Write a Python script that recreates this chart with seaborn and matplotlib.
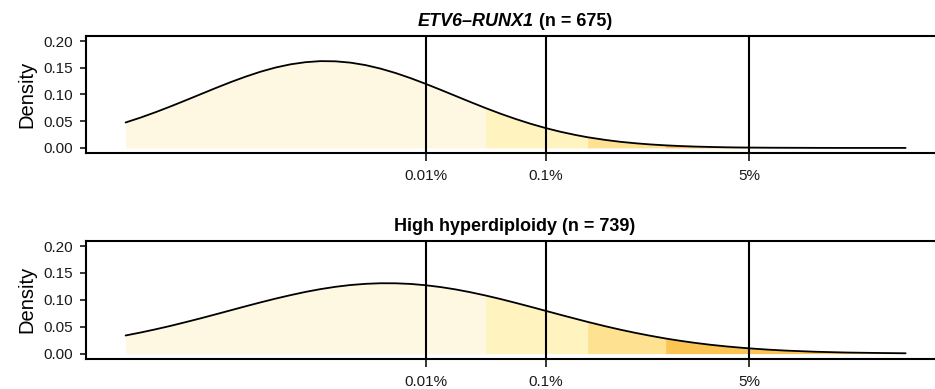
import numpy as np
import pandas as pd
import seaborn as sns
import matplotlib.pyplot as plt
from matplotlib.offsetbox import TextArea, HPacker, AnchoredOffsetbox

# log10(MRD) positions at which the density curves are drawn
log_mrd = [-6.5, -6.375, -6.25, -6.125, -6.0, -5.875, -5.75, -5.625, -5.5,
           -5.375, -5.25, -5.125, -5.0, -4.875, -4.75, -4.625, -4.5, -4.375,
           -4.25, -4.125, -4.0, -3.875, -3.75, -3.625, -3.5, -3.375, -3.25,
           -3.125, -3.0, -2.875, -2.75, -2.65, -2.5, -2.375, -2.25, -2.125,
           -2.0, -1.875, -1.75, -1.625, -1.5, -1.375, -1.25, -1.125, -1.0,
           -0.75, -0.5, -0.25, 0.0]

# density of log MRD for each subtype
density_etv6 = [0.0476, 0.0568, 0.0669, 0.0777, 0.0890, 0.1005, 0.1120, 0.1231,
                0.1334, 0.1427, 0.1505, 0.1565, 0.1605, 0.1625, 0.1621, 0.1596,
                0.1550, 0.1484, 0.1402, 0.1306, 0.1200, 0.1088, 0.0973, 0.0858,
                0.0746, 0.0640, 0.0542, 0.0452, 0.0372, 0.0302, 0.0242, 0.0200,
                0.0149, 0.0114, 0.0087, 0.0065, 0.0048, 0.0035, 0.0025, 0.0018,
                0.0012, 0.0008, 0.0006, 0.0004, 0.0003, 0.0001, 0.0, 0.0, 0.0]
density_hhd = [0.0337, 0.0392, 0.0452, 0.0516, 0.0585, 0.0656, 0.0730, 0.0805,
               0.0880, 0.0953, 0.1023, 0.1088, 0.1148, 0.1200, 0.1243, 0.1276,
               0.1298, 0.1309, 0.1308, 0.1296, 0.1272, 0.1238, 0.1194, 0.1141,
               0.1081, 0.1015, 0.0944, 0.0871, 0.0796, 0.0721, 0.0648, 0.0590,
               0.0508, 0.0444, 0.0385, 0.0331, 0.0281, 0.0237, 0.0198, 0.0164,
               0.0135, 0.0110, 0.0089, 0.0071, 0.0056, 0.0034, 0.0020, 0.0012,
               0.0006]

# shaded risk bands along log MRD
band_edges = [-6.5, -3.5, -2.65, -2.0, 0.0]
band_colors = ["#FEF8E3", "#FFF4C0", "#FEE191", "#FBC453"]

# MRD thresholds marked by vertical lines
threshold_values = [0.0001, 0.001, 0.05]
threshold_labels = ["0.01%", "0.1%", "5%"]

y_ticks = [0.0, 0.05, 0.10, 0.15, 0.20]

titles_italic = ["ETV6\u2013RUNX1", ""]
titles_plain = [" (n = 675)", "High hyperdiploidy (n = 739)"]

sns.set_style("ticks")
plt.rcParams["font.family"] = ["Liberation Sans", "DejaVu Sans"]
plt.rcParams["text.color"] = "black"
plt.rcParams["axes.labelcolor"] = "black"

fig = plt.figure(figsize=(9.35, 3.89), dpi=100)
W, H = 935.0, 389.0
ax_left, ax_right = 86.0, 944.0
panel_boxes = [(36.0, 153.0), (241.0, 358.7)]
xlim = (-6.83, 0.32)
ylim = (-0.0095, 0.2095)

frames = [pd.DataFrame({"log_mrd": log_mrd, "density": d})
          for d in (density_etv6, density_hhd)]

for i, (df, (top, bottom)) in enumerate(zip(frames, panel_boxes)):
    ax = fig.add_axes([ax_left / W, 1 - bottom / H,
                       (ax_right - ax_left) / W, (bottom - top) / H])
    x = df["log_mrd"].to_numpy()
    y = df["density"].to_numpy()

    for lo, hi, col in zip(band_edges[:-1], band_edges[1:], band_colors):
        m = (x >= lo - 1e-9) & (x <= hi + 1e-9)
        ax.fill_between(x[m], 0, y[m], color=col, linewidth=0, zorder=1)

    sns.lineplot(data=df, x="log_mrd", y="density", ax=ax, color="black",
                 linewidth=1.3, zorder=3)

    for t in threshold_values:
        ax.axvline(np.log10(t), color="black", linewidth=1.5, zorder=4)

    ax.set_xlim(*xlim)
    ax.set_ylim(*ylim)
    ax.set_xticks(np.log10(threshold_values))
    ax.set_xticklabels(threshold_labels)
    ax.set_yticks(y_ticks)
    ax.set_yticklabels([f"{v:.2f}" for v in y_ticks])
    ax.tick_params(axis="x", length=6, width=1.1, pad=5.5, labelsize=11,
                   color="black", labelcolor="#1a1a1a")
    ax.tick_params(axis="y", length=4.5, width=1.1, pad=5, labelsize=11,
                   color="black", labelcolor="#1a1a1a")
    ax.set_xlabel("")
    ax.set_ylabel("Density", fontsize=14.5, labelpad=5)
    for side in ("left", "top", "bottom", "right"):
        ax.spines[side].set_linewidth(1.5)
        ax.spines[side].set_color("black")

    parts = []
    if titles_italic[i]:
        parts.append(TextArea(titles_italic[i], textprops=dict(
            fontweight="bold", fontstyle="italic", fontsize=13,
            color="black", family=["Liberation Sans", "DejaVu Sans"])))
    parts.append(TextArea(titles_plain[i], textprops=dict(
        fontweight="bold", fontsize=13, color="black",
        family=["Liberation Sans", "DejaVu Sans"])))
    box = HPacker(children=parts, align="baseline", pad=0, sep=0)
    anchored = AnchoredOffsetbox(loc="lower center", child=box, pad=0,
                                 borderpad=0.42, frameon=False,
                                 bbox_to_anchor=(0.5, 1.0),
                                 bbox_transform=ax.transAxes,
                                 prop=dict(size=10))
    ax.add_artist(anchored)

fig.savefig("out.png", dpi=100)
